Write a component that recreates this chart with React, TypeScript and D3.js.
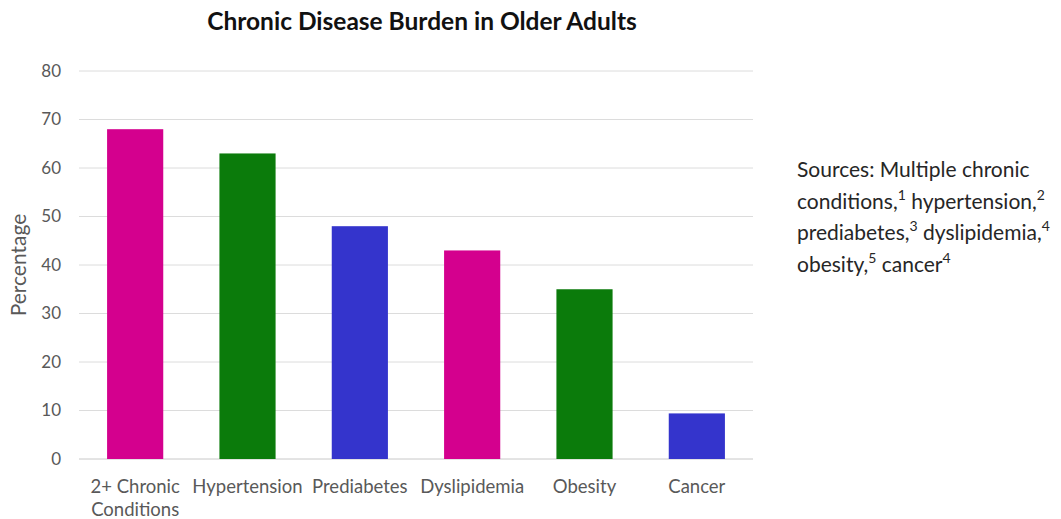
import React from "react";
import * as d3 from "d3";

const categories = ["2+ Chronic Conditions", "Hypertension", "Prediabetes", "Dyslipidemia", "Obesity", "Cancer"];
const categoryLines = [["2+ Chronic", "Conditions"], ["Hypertension"], ["Prediabetes"], ["Dyslipidemia"], ["Obesity"], ["Cancer"]];
const values = [68, 63, 48, 43, 35, 9.4];
const barColors = ["#D4008E", "#0B7B0B", "#3434CC", "#D4008E", "#0B7B0B", "#3434CC"];
const yTicks = [0, 10, 20, 30, 40, 50, 60, 70, 80];
const title = "Chronic Disease Burden in Older Adults";
const yTitle = "Percentage";
const sourceLines: [string, string][][] = [
  [["Sources: Multiple chronic", ""]],
  [["conditions,", "1"], [" hypertension,", "2"]],
  [["prediabetes,", "3"], [" dyslipidemia,", "4"]],
  [["obesity,", "5"], [" cancer", "4"]],
];

const W = 1061;
const H = 519;
const margin = { left: 79, right: 308, top: 71, bottom: 60 };

export default function App() {
  const x = d3
    .scaleBand<string>()
    .domain(categories)
    .range([margin.left, W - margin.right])
    .paddingInner(0.5)
    .paddingOuter(0.25);
  const y = d3.scaleLinear().domain([0, 80]).range([H - margin.bottom, margin.top]);
  const font = "Lato, 'Open Sans', sans-serif";
  return (
    <svg width={W} height={H} style={{ position: "absolute", left: 0, top: 0, background: "#fff" }} fontFamily={font}>
      <rect x={0} y={0} width={W} height={H} fill="#fff" />
      <text x={422} y={30} textAnchor="middle" fontSize={24.5} fontWeight="bold" fill="#111">
        {title}
      </text>
      {yTicks.map((t) => (
        <g key={t}>
          <line x1={margin.left} x2={W - margin.right} y1={y(t)} y2={y(t)} stroke={t === 0 ? "#c8c8c8" : "#dcdcdc"} strokeWidth={1} />
          <text x={61} y={y(t)} dy="0.35em" textAnchor="end" fontSize={17} fill="#595959">
            {t}
          </text>
        </g>
      ))}
      <text transform={`translate(26,${y(40)}) rotate(-90)`} textAnchor="middle" fontSize={21} fill="#595959">
        {yTitle}
      </text>
      {categories.map((c, i) => (
        <rect key={c} x={x(c)} y={y(values[i])} width={x.bandwidth()} height={y(0) - y(values[i])} fill={barColors[i]} />
      ))}
      {categories.map((c, i) => (
        <text key={c} x={(x(c) as number) + x.bandwidth() / 2} y={493} textAnchor="middle" fontSize={18.5} fill="#595959">
          {categoryLines[i].map((l, j) => (
            <tspan key={j} x={(x(c) as number) + x.bandwidth() / 2} dy={j === 0 ? 0 : 23}>
              {l}
            </tspan>
          ))}
        </text>
      ))}
      {sourceLines.map((line, i) => (
        <text key={i} x={797} y={177 + i * 31.5} fontSize={21} fill="#262626">
          {line.map(([txt, sup], j) => {
            const prevSup = j > 0 && line[j - 1][1] !== "";
            return (
              <React.Fragment key={j}>
                <tspan dy={prevSup ? 9 : 0}>{txt}</tspan>
                {sup && (
                  <tspan fontSize={14} dy={-9}>
                    {sup}
                  </tspan>
                )}
              </React.Fragment>
            );
          })}
        </text>
      ))}
    </svg>
  );
}
